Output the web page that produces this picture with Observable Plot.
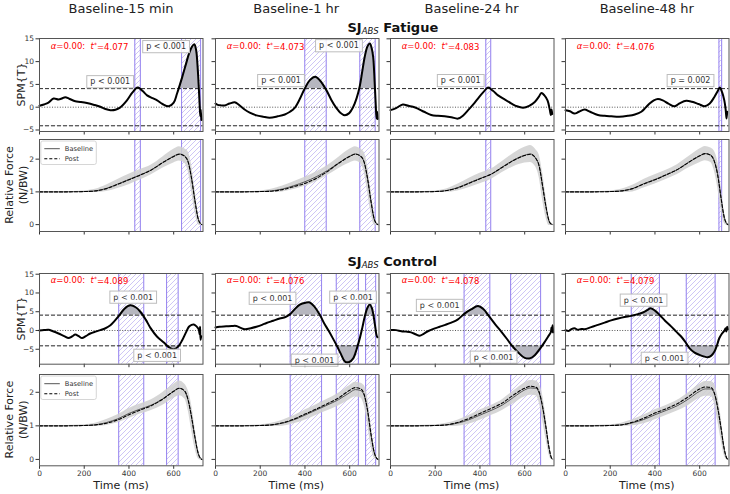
<!DOCTYPE html>
<html><head><meta charset="utf-8">
<script src="https://cdn.jsdelivr.net/npm/d3@7"></script>
<script src="https://cdn.jsdelivr.net/npm/@observablehq/plot@0.6"></script>
<style>
html,body{margin:0;padding:0;background:#fff;}
#root{position:relative;width:730px;height:494px;overflow:hidden;font-family:"DejaVu Sans",sans-serif;background:#fff;}
</style></head>
<body>
<svg width="0" height="0" style="position:absolute;left:0;top:0"><defs>
<pattern id="hatch" patternUnits="userSpaceOnUse" width="5" height="5">
<path d="M-1,1 L1,-1 M0,5 L5,0 M4,6 L6,4" stroke="#c2b6f2" stroke-width="0.8" fill="none"/>
</pattern></defs></svg>
<div id="root"></div>
<script>
// ---------------- DATA ----------------
const columnTitles = ["Baseline-15 min", "Baseline-1 hr", "Baseline-24 hr", "Baseline-48 hr"];
const groupTitles = ["Fatigue", "Control"];
const tStarFatigue = [4.077, 4.073, 4.083, 4.076];
const tStarControl = [4.089, 4.076, 4.078, 4.079];
const xTicks = [0, 200, 400, 600];
const spmTicks = [-5, 0, 5, 10, 15];
const forceTicks = [0, 1, 2];

// SPM{t} curves: [time ms, t value]
const spmF15 = [[0,0.3],[20,0.6],[40,1.0],[63,1.9],[85,1.7],[100,1.9],[115,2.2],[135,1.8],[160,1.3],[182,1.15],[212,0.9],[245,0.5],[272,0.1],[295,-0.4],[317,-0.65],[340,-0.55],[360,-0.1],[391,1.5],[415,3.2],[439,4.3],[460,3.6],[481,2.6],[505,2.0],[526,1.5],[550,0.7],[578,0.2],[600,1.0],[615,3.0],[638,6.6],[655,9.5],[668,11.7],[682,13.3],[692,13.8],[700,12.6],[706,9.5],[712,4.5],[716,0.5],[719,-2.0],[721,-0.5],[724,-2.8]];
const spmF1h = [[0,0.8],[10,0.5],[25,0.4],[41,0.37],[63,0.8],[86,1.1],[103,0.6],[130,-0.5],[153,-1.2],[183,-1.8],[213,-2.1],[242,-2.3],[278,-2.0],[310,-1.6],[333,-1.0],[354,-0.15],[378,1.9],[398,4.0],[423,6.0],[446,6.7],[468,5.8],[495,3.8],[518,1.6],[540,-0.15],[558,-1.2],[578,-1.75],[598,-1.3],[615,0.0],[631,2.0],[645,4.6],[656,7.8],[667,11.0],[679,13.3],[690,14.0],[698,13.0],[705,11.0],[711,6.0],[716,1.0],[720,-2.5],[723,-1.0],[725,-2.6]];
const spmF24 = [[0,-0.65],[25,-0.2],[55,0.6],[80,0.3],[100,0.1],[122,-0.3],[150,-1.0],[182,-1.7],[212,-1.9],[242,-2.0],[272,-2.2],[302,-2.5],[325,-1.8],[347,-0.65],[370,0.6],[391,1.9],[415,3.3],[436,4.3],[458,3.6],[481,2.6],[510,1.7],[541,0.8],[565,0.2],[593,-0.1],[620,0.3],[645,1.15],[662,2.2],[675,3.1],[688,2.6],[702,1.5],[712,-0.5],[717,-1.7],[720,-0.5],[723,-1.5]];
const spmF48 = [[0,-0.65],[20,-0.9],[40,-1.4],[60,-1.0],[85,-0.5],[110,-1.0],[145,-1.7],[175,-1.9],[205,-2.0],[240,-2.1],[279,-1.9],[310,-1.6],[339,-1.0],[358,-0.1],[376,0.8],[395,1.5],[413,1.8],[435,1.5],[460,0.8],[488,0.2],[512,0.9],[540,1.4],[565,1.2],[595,0.7],[623,0.2],[645,0.8],[665,2.2],[680,3.5],[690,4.3],[700,3.3],[710,1.5],[716,-0.5],[720,-2.5],[723,-1.0]];
const spmC15 = [[0,0],[20,0.1],[40,0.2],[60,-0.2],[85,-0.8],[110,-1.5],[130,-2.0],[145,-1.6],[160,-1.1],[175,-1.5],[190,-2.0],[207,-1.5],[227,-0.8],[250,-0.3],[272,0.1],[295,0.6],[317,1.4],[335,2.5],[354,3.8],[380,5.8],[406,6.7],[430,6.2],[451,5.0],[475,2.9],[496,0.7],[525,-1.6],[556,-3.2],[580,-4.5],[600,-5.0],[620,-4.3],[638,-2.6],[655,-0.5],[668,1.0],[680,1.5],[690,1.6],[702,1.1],[712,0.3],[716,-1.0],[718,1.0],[720,-2.5],[723,-1.5]];
const spmC1h = [[0,0.8],[18,1.0],[48,1.1],[73,1.2],[93,1.2],[113,0.7],[131,0.35],[158,0.6],[183,1.0],[208,1.5],[228,2.0],[258,2.6],[287,3.2],[313,3.6],[332,4.3],[353,5.6],[377,6.9],[403,7.4],[422,7.45],[443,6.3],[467,4.1],[485,2.0],[504,0.1],[523,-1.9],[541,-3.9],[561,-6.3],[579,-8.3],[598,-8.4],[615,-7.5],[631,-5.0],[645,-2.1],[657,0.9],[667,3.6],[679,6.0],[690,6.9],[699,6.0],[705,4.5],[713,1.5],[720,-1.25],[724,-1.8]];
const spmC24 = [[0,0.1],[25,0.1],[48,-0.2],[70,-0.3],[92,-0.5],[112,-1.0],[130,-1.4],[148,-0.9],[167,-0.2],[195,0.5],[220,1.0],[245,1.5],[272,2.1],[300,2.9],[331,4.5],[360,5.6],[391,6.5],[415,5.7],[443,3.6],[470,1.5],[496,-0.35],[520,-2.2],[541,-3.9],[570,-5.8],[600,-7.3],[625,-7.4],[645,-6.6],[668,-4.9],[690,-3.0],[705,-1.6],[717,-0.4],[720,0.8],[722,-0.3],[725,1.4],[727,-0.5]];
const spmC48 = [[0,0.1],[15,-0.1],[25,0.3],[40,0.6],[55,0.2],[70,0.4],[85,0.35],[115,0.9],[145,1.5],[175,2.1],[204,2.7],[235,3.2],[264,3.6],[294,3.9],[320,4.3],[346,4.8],[365,5.4],[380,5.9],[400,5.3],[420,4.2],[445,2.6],[472,1.1],[495,-0.3],[517,-1.6],[535,-3.0],[554,-4.7],[577,-5.9],[599,-6.5],[618,-6.9],[636,-7.1],[652,-6.7],[666,-5.6],[678,-3.8],[688,-2.0],[700,-0.8],[711,0.0],[716,0.6],[719,-0.3],[723,1.0],[726,0.3]];

// supra-threshold clusters [start ms, end ms]
const clusF15 = [[426,451],[635,720]];
const clusF1h = [[399,495],[645,714]];
const clusF24 = [[426,448]];
const clusF48 = [[686,698]];
const clusC15 = [[354,466],[568,620]];
const clusC1h = [[334,474],[540,639],[671,716]];
const clusC24 = [[329,444],[537,671]];
const clusC48 = [[294,420],[540,669]];

// cluster p-value labels (anchored in data units)
const pLabF15 = [{p:"p < 0.001", t:316, v:5.6}, {p:"p < 0.001", t:566, v:13.3}];
const pLabF1h = [{p:"p < 0.001", t:293, v:5.85}, {p:"p < 0.001", t:552, v:13.5}];
const pLabF24 = [{p:"p < 0.001", t:314, v:5.85}];
const pLabF48 = [{p:"p = 0.002", t:559, v:5.85}];
const pLabC15 = [{p:"p < 0.001", t:419, v:8.9}, {p:"p < 0.001", t:526, v:-6.6}];
const pLabC1h = [{p:"p < 0.001", t:255, v:8.6}, {p:"p < 0.001", t:615, v:8.9}, {p:"p < 0.001", t:443, v:-7.9}];
const pLabC24 = [{p:"p < 0.001", t:220, v:6.7}, {p:"p < 0.001", t:461, v:-7.1}];
const pLabC48 = [{p:"p < 0.001", t:349, v:8.1}, {p:"p < 0.001", t:443, v:-7.4}];

// relative force curves (N/BW)
const forceTime = [0,100,200,250,300,350,400,450,500,550,600,625,650,665,680,695,710,720,726];
const baseF15 = [1.00,1.00,1.01,1.03,1.11,1.24,1.38,1.52,1.67,1.89,2.09,2.16,2.09,1.92,1.42,0.74,0.17,0.03,0.00];
const postF15 = [1.00,1.00,1.01,1.03,1.10,1.23,1.37,1.51,1.67,1.89,2.08,2.15,2.08,1.90,1.40,0.72,0.16,0.03,0.00];
const sdF15   = [0.005,0.006,0.02,0.05,0.10,0.14,0.16,0.16,0.15,0.17,0.21,0.22,0.22,0.30,0.40,0.35,0.17,0.06,0.02];
const baseF1h = [1.00,1.00,1.01,1.03,1.09,1.19,1.31,1.46,1.65,1.88,2.09,2.16,2.08,1.90,1.40,0.72,0.16,0.03,0.00];
const postF1h = [1.00,1.00,1.01,1.02,1.07,1.16,1.26,1.41,1.62,1.87,2.08,2.15,2.08,1.90,1.40,0.72,0.16,0.03,0.00];
const sdF1h   = [0.005,0.006,0.02,0.05,0.09,0.12,0.14,0.15,0.15,0.17,0.21,0.22,0.22,0.30,0.40,0.35,0.17,0.06,0.02];
const baseF24 = [1.00,1.00,1.01,1.04,1.13,1.27,1.41,1.54,1.76,1.97,2.12,2.16,2.02,1.78,1.18,0.55,0.09,0.01,0.00];
const postF24 = [1.00,1.00,1.01,1.04,1.12,1.26,1.40,1.54,1.75,1.96,2.11,2.15,2.02,1.78,1.18,0.55,0.09,0.01,0.00];
const sdF24   = [0.005,0.006,0.02,0.05,0.10,0.14,0.16,0.16,0.17,0.20,0.24,0.26,0.27,0.35,0.42,0.33,0.12,0.04,0.02];
const baseF48 = [1.00,1.00,1.01,1.03,1.10,1.25,1.38,1.52,1.68,1.90,2.10,2.17,2.12,1.95,1.55,0.85,0.22,0.04,0.00];
const postF48 = [1.00,1.00,1.01,1.03,1.10,1.24,1.37,1.52,1.68,1.90,2.10,2.17,2.11,1.94,1.53,0.83,0.21,0.04,0.00];
const sdF48   = [0.005,0.006,0.02,0.05,0.10,0.13,0.14,0.14,0.15,0.17,0.21,0.22,0.22,0.30,0.40,0.36,0.18,0.06,0.02];
const baseC15 = [1.00,1.00,1.01,1.03,1.10,1.21,1.37,1.50,1.62,1.80,2.03,2.12,2.02,1.75,1.25,0.65,0.17,0.03,0.00];
const postC15 = [1.00,1.00,1.01,1.03,1.08,1.18,1.33,1.47,1.60,1.79,2.03,2.12,2.03,1.76,1.26,0.66,0.17,0.03,0.00];
const sdC15   = [0.005,0.006,0.02,0.05,0.09,0.12,0.15,0.15,0.16,0.19,0.21,0.22,0.22,0.30,0.38,0.32,0.15,0.05,0.02];
const baseC1h = [1.00,1.00,1.01,1.03,1.08,1.18,1.32,1.47,1.62,1.78,1.99,2.08,2.05,1.90,1.45,0.75,0.20,0.04,0.00];
const postC1h = [1.00,1.00,1.01,1.03,1.09,1.20,1.35,1.50,1.66,1.83,2.06,2.14,2.10,1.93,1.46,0.76,0.20,0.04,0.00];
const sdC1h   = [0.005,0.006,0.02,0.05,0.09,0.12,0.15,0.16,0.17,0.19,0.21,0.22,0.22,0.30,0.40,0.34,0.16,0.05,0.02];
const baseC24 = [1.00,1.00,1.01,1.03,1.08,1.18,1.32,1.46,1.62,1.85,2.07,2.13,2.12,1.97,1.55,0.95,0.30,0.04,0.00];
const postC24 = [1.00,1.00,1.01,1.03,1.10,1.22,1.37,1.52,1.68,1.92,2.12,2.18,2.15,2.00,1.57,0.96,0.30,0.04,0.00];
const sdC24   = [0.005,0.006,0.02,0.05,0.09,0.13,0.15,0.15,0.16,0.19,0.21,0.22,0.22,0.28,0.38,0.34,0.18,0.05,0.02];
const baseC48 = [1.00,1.00,1.01,1.03,1.09,1.19,1.33,1.46,1.60,1.80,2.03,2.10,2.10,1.97,1.55,0.95,0.30,0.05,0.00];
const postC48 = [1.00,1.00,1.01,1.03,1.11,1.23,1.38,1.51,1.66,1.87,2.10,2.16,2.14,1.99,1.56,0.95,0.30,0.05,0.00];
const sdC48   = [0.005,0.006,0.02,0.05,0.09,0.13,0.15,0.15,0.16,0.19,0.21,0.22,0.22,0.28,0.38,0.34,0.18,0.05,0.02];

// ---------------- LAYOUT / STYLE ----------------
const root = document.getElementById("root");
const colLeft = [39.3, 214.5, 389.8, 565];
const panelW = 163.5;
const rows = [
  {top: 38, h: 93, dom: [-5.33, 15.07], ticks: spmTicks},
  {top: 139, h: 92, dom: [-0.21, 2.60], ticks: forceTicks},
  {top: 273.3, h: 90.7, dom: [-8.98, 15.19], ticks: spmTicks},
  {top: 374, h: 91.3, dom: [-0.19, 2.53], ticks: forceTicks}
];
const PURPLE = "#9c8bf0";
const CLUSTERFILL = "#b6b6bf";
const CURVE = "catmull-rom";
const M = {l: 28, r: 4, t: 4, b: 14};
const minus = d => String(d).replace("-", "\u2212");
let uid = 0;

function makePlot(col, row, showX, marks) {
  const R = rows[row];
  const W = M.l + panelW + M.r, H = M.t + R.h + M.b;
  const svg = Plot.plot({
    width: W, height: H,
    marginLeft: M.l, marginRight: M.r, marginTop: M.t, marginBottom: M.b,
    style: {background: "transparent", fontFamily: "DejaVu Sans, sans-serif", fontSize: "7.5px", color: "#333",
            overflow: "visible", position: "absolute", left: (colLeft[col] - M.l) + "px", top: (R.top - M.t) + "px", maxWidth: "none"},
    x: {domain: [0, 731], ticks: xTicks, tickSize: 3.5, tickPadding: 1.5, tickFormat: showX ? minus : () => "", label: null},
    y: {domain: R.dom, ticks: R.ticks, tickSize: 3.5, tickPadding: 2, tickFormat: col === 0 ? minus : () => "", label: null},
    marks: [...marks, Plot.frame({stroke: "#555", strokeWidth: 1})]
  });
  root.appendChild(svg);
  return svg;
}

function spmPanel(col, row, series, clusters, thr, pLabels) {
  const data = series.map(([t, v]) => ({t, v}));
  const svg = makePlot(col, row, false, [
    Plot.rect(clusters, {x1: d => d[0], x2: d => d[1], fill: "url(#hatch)"}),
    Plot.ruleX(clusters.flat(), {stroke: PURPLE, strokeWidth: 1.1}),
    Plot.areaY(data, {x: "t", y1: thr, y2: "v", fill: CLUSTERFILL, curve: CURVE}),
    Plot.areaY(data, {x: "t", y1: -thr, y2: "v", fill: CLUSTERFILL, curve: CURVE}),
    Plot.ruleY([thr, -thr], {stroke: "#111", strokeWidth: 0.9, strokeDasharray: "4,2"}),
    Plot.ruleY([0], {stroke: "#444", strokeWidth: 0.9, strokeDasharray: "1,1.6"}),
    Plot.lineY(data, {x: "t", y: "v", stroke: "#000", strokeWidth: 2, curve: CURVE}),
    Plot.text([thr.toFixed(3)], {x: 50, y: 13.3, text: d => d, textAnchor: "start", fill: "red", fontSize: 8.5}),
    Plot.text(pLabels, {x: "t", y: "v", text: "p", fill: "#333", fontSize: 8})
  ]);
  const id = "clip" + (uid++);
  const Y = svg.scale("y");
  const W = M.l + panelW + M.r, H = M.t + rows[row].h + M.b;
  const yp = Y.apply(thr), yn = Y.apply(-thr);
  const s = d3.select(svg);
  const defs = s.append("defs");
  defs.append("clipPath").attr("id", id + "p").append("rect").attr("x", 0).attr("y", 0).attr("width", W).attr("height", yp);
  defs.append("clipPath").attr("id", id + "n").append("rect").attr("x", 0).attr("y", yn).attr("width", W).attr("height", H - yn);
  const areas = svg.querySelectorAll('g[aria-label="area"]');
  [[0, "p"], [1, "n"]].forEach(([i, suf]) => {
    const g = areas[i];
    if (!g) return;
    const wrap = document.createElementNS("http://www.w3.org/2000/svg", "g");
    wrap.setAttribute("clip-path", `url(#${id}${suf})`);
    g.parentNode.insertBefore(wrap, g);
    wrap.appendChild(g);
  });
  const texts = svg.querySelectorAll('g[aria-label="text"]');
  // stat text with italic symbols and superscript star
  d3.select(texts[0]).selectAll("text").each(function() {
    const el = d3.select(this); const val = el.text();
    el.text(null);
    el.append("tspan").attr("font-style", "italic").text("\u03b1");
    el.append("tspan").text("=0.00:  ");
    el.append("tspan").attr("font-style", "italic").text("t");
    el.append("tspan").attr("dy", "-0.45em").attr("font-size", "6").text("*");
    el.append("tspan").attr("dy", "0.45em").text("=" + val);
  });
  // boxes behind p labels
  d3.select(texts[1]).selectAll("text").each(function() {
    const bb = this.getBBox();
    const r = document.createElementNS("http://www.w3.org/2000/svg", "rect");
    r.setAttribute("x", bb.x - 3.5); r.setAttribute("y", bb.y - 1.6);
    r.setAttribute("width", bb.width + 7); r.setAttribute("height", bb.height + 3.2);
    const tr = this.getAttribute("transform"); if (tr) r.setAttribute("transform", tr);
    r.setAttribute("fill", "white"); r.setAttribute("fill-opacity", "0.85");
    r.setAttribute("stroke", "#bdbdbd"); r.setAttribute("stroke-width", "1");
    this.parentNode.insertBefore(r, this);
  });
}

function forcePanel(col, row, base, post, sd, clusters) {
  const data = forceTime.map((t, i) => ({t, b: base[i], p: post[i], lo: base[i] - sd[i], hi: base[i] + sd[i]}));
  makePlot(col, row, row === 3, [
    Plot.rect(clusters, {x1: d => d[0], x2: d => d[1], fill: "url(#hatch)"}),
    Plot.ruleX(clusters.flat(), {stroke: PURPLE, strokeWidth: 1.1}),
    Plot.areaY(data, {x: "t", y1: "lo", y2: "hi", fill: "#cfcfcf", fillOpacity: 0.85, curve: "monotone-x"}),
    Plot.lineY(data, {x: "t", y: "b", stroke: "#555", strokeWidth: 1, curve: "monotone-x"}),
    Plot.lineY(data, {x: "t", y: "p", stroke: "#000", strokeWidth: 1.1, strokeDasharray: "3,2", curve: "monotone-x"})
  ]);
}

const spmF = [spmF15, spmF1h, spmF24, spmF48], spmC = [spmC15, spmC1h, spmC24, spmC48];
const clusF = [clusF15, clusF1h, clusF24, clusF48], clusC = [clusC15, clusC1h, clusC24, clusC48];
const pLabF = [pLabF15, pLabF1h, pLabF24, pLabF48], pLabC = [pLabC15, pLabC1h, pLabC24, pLabC48];
const baseF = [baseF15, baseF1h, baseF24, baseF48], postF = [postF15, postF1h, postF24, postF48], sdF = [sdF15, sdF1h, sdF24, sdF48];
const baseC = [baseC15, baseC1h, baseC24, baseC48], postC = [postC15, postC1h, postC24, postC48], sdC = [sdC15, sdC1h, sdC24, sdC48];

for (let c = 0; c < 4; c++) {
  spmPanel(c, 0, spmF[c], clusF[c], tStarFatigue[c], pLabF[c]);
  forcePanel(c, 1, baseF[c], postF[c], sdF[c], clusF[c]);
  spmPanel(c, 2, spmC[c], clusC[c], tStarControl[c], pLabC[c]);
  forcePanel(c, 3, baseC[c], postC[c], sdC[c], clusC[c]);
}

// ---------------- TEXT OVERLAY (titles, labels, legends) ----------------
const ov = d3.select(root).append("svg")
  .attr("width", 730).attr("height", 494)
  .style("position", "absolute").style("left", "0px").style("top", "0px")
  .style("pointer-events", "none")
  .attr("font-family", "DejaVu Sans, sans-serif");

columnTitles.forEach((t, c) => {
  ov.append("text").attr("x", colLeft[c] + panelW / 2).attr("y", 12.5)
    .attr("text-anchor", "middle").attr("font-size", 13).attr("fill", "#222").text(t);
  ov.append("text").attr("x", colLeft[c] + panelW / 2).attr("y", 489)
    .attr("text-anchor", "middle").attr("font-size", 11).attr("fill", "#222").text("Time (ms)");
});

[[groupTitles[0], 31.5], [groupTitles[1], 265.5]].forEach(([g, y]) => {
  const t = ov.append("text").attr("x", 347.5).attr("y", y).attr("fill", "#111");
  t.append("tspan").attr("font-weight", "bold").attr("font-size", 13).text("SJ");
  t.append("tspan").attr("font-style", "italic").attr("font-size", 8.5).attr("dy", 2).text("ABS");
  t.append("tspan").attr("font-weight", "bold").attr("font-size", 13).attr("dy", -2).text(" " + g);
});

[0, 2].forEach(r => {
  const cy = rows[r].top + rows[r].h / 2;
  ov.append("text").attr("transform", `translate(24.5,${cy}) rotate(-90)`)
    .attr("text-anchor", "middle").attr("font-size", 11).attr("fill", "#222").text("SPM{T}");
});
[1, 3].forEach(r => {
  const cy = rows[r].top + rows[r].h / 2;
  ov.append("text").attr("transform", `translate(12.5,${cy}) rotate(-90)`)
    .attr("text-anchor", "middle").attr("font-size", 11).attr("fill", "#222").text("Relative Force");
  ov.append("text").attr("transform", `translate(27,${cy}) rotate(-90)`)
    .attr("text-anchor", "middle").attr("font-size", 11).attr("fill", "#222").text("(N/BW)");
  // legend
  const L = colLeft[0], T = rows[r].top;
  ov.append("rect").attr("x", L + 1.5).attr("y", T + 2).attr("width", 55.5).attr("height", 23.5).attr("rx", 2)
    .attr("fill", "white").attr("fill-opacity", 0.8).attr("stroke", "#ccc").attr("stroke-width", 0.8);
  ov.append("line").attr("x1", L + 5).attr("x2", L + 20.5).attr("y1", T + 9.7).attr("y2", T + 9.7)
    .attr("stroke", "#555").attr("stroke-width", 1);
  ov.append("line").attr("x1", L + 5).attr("x2", L + 20.5).attr("y1", T + 19.7).attr("y2", T + 19.7)
    .attr("stroke", "#000").attr("stroke-width", 1.1).attr("stroke-dasharray", "3,2");
  ov.append("text").attr("x", L + 25.5).attr("y", T + 12).attr("font-size", 6.7).attr("fill", "#333").text("Baseline");
  ov.append("text").attr("x", L + 25.5).attr("y", T + 22).attr("font-size", 6.7).attr("fill", "#333").text("Post");
});
</script>
</body></html>
